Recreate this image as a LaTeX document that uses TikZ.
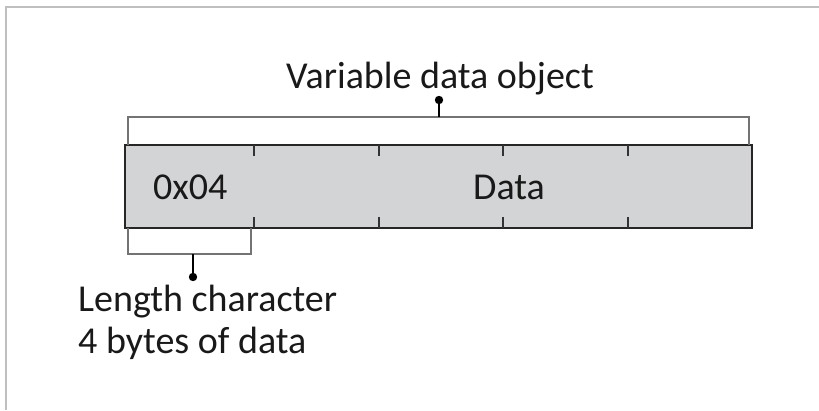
\documentclass[tikz,border=0pt]{standalone}
\usepackage{fontspec}
\setmainfont{Carlito}
\begin{document}
\begin{tikzpicture}[x=1pt,y=-1pt,
  frameline/.style={draw=black!25,line width=1.5pt},
  boxline/.style={draw=black!85,line width=1.8pt,fill=boxfill},
  tickline/.style={draw=black!80,line width=1.2pt},
  bracket/.style={draw=black!55,line width=1.2pt},
  stem/.style={draw=black,line width=1.3pt},
  lbl/.style={font=\fontsize{38}{44}\selectfont,inner sep=0pt,text=black!90}]
\definecolor{boxfill}{HTML}{D3D4D6}
\useasboundingbox (0,0) rectangle (819,410);
\draw[frameline] (6,410) -- (6,7) -- (819,7);
% main box
\path[boxline] (125,145) rectangle (752,228);
\node[inner sep=0pt] (box) at (438.5,186.5) {};
\foreach \x in {254,379,503,628}{
  \draw[tickline] (\x,145) -- (\x,156);
  \draw[tickline] (\x,228) -- (\x,217);
}
% upper bracket
\coordinate (ub1) at (128,145);
\coordinate (ub2) at (749,145);
\draw[bracket] (ub1) -- (128,117) -- (749,117) -- (ub2);
\coordinate (ustem) at (439,117);
\coordinate (udot) at (439,100);
\draw[stem] (ustem) -- (udot);
\fill (udot) circle (4.2);
\node[lbl,anchor=base] (vdo) at (440,88) {Variable data object};
% lower bracket
\coordinate (lb1) at (128,228);
\coordinate (lb2) at (251,228);
\draw[bracket] (lb1) -- (128,254) -- (251,254) -- (lb2);
\coordinate (lstem) at (193,254);
\coordinate (ldot) at (193,277);
\draw[stem] (lstem) -- (ldot);
\fill (ldot) circle (4.2);
\node[lbl,anchor=base west] (len) at (78,311) {Length character};
\node[lbl,anchor=base west] (bytes) at (78,353) {4 bytes of data};
% labels in box
\node[lbl,anchor=base west] (hex) at (153,199) {0x04};
\node[lbl,anchor=base west] (data) at (473,199) {Data};
\end{tikzpicture}
\end{document}
